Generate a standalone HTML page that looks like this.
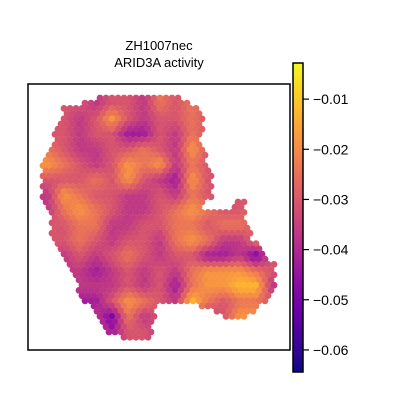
<!DOCTYPE html>
<html><head><meta charset="utf-8"><style>
html,body{margin:0;padding:0;background:#fff;}
svg{display:block;font-family:"Liberation Sans","DejaVu Sans",sans-serif;}
</style></head><body>
<svg id="chart" width="400" height="400" viewBox="0 0 400 400">
<defs>
<linearGradient id="plasma" x1="0" y1="1" x2="0" y2="0">
<stop offset="0" stop-color="#0d0887"/><stop offset="0.1" stop-color="#41049d"/><stop offset="0.2" stop-color="#6a00a8"/><stop offset="0.3" stop-color="#8f0da4"/><stop offset="0.4" stop-color="#b12a90"/><stop offset="0.5" stop-color="#cc4778"/><stop offset="0.6" stop-color="#e16462"/><stop offset="0.7" stop-color="#f2844b"/><stop offset="0.8" stop-color="#fca636"/><stop offset="0.9" stop-color="#fcce25"/><stop offset="1" stop-color="#f0f921"/>
</linearGradient>
</defs>
<text x="159" y="50" text-anchor="middle" font-size="13">ZH1007nec</text>
<text x="159" y="67" text-anchor="middle" font-size="13">ARID3A activity</text>
<g id="spots"></g>
<rect x="28" y="84" width="262" height="266" fill="none" stroke="#000" stroke-width="1.5"/>
<rect x="293" y="63" width="10" height="309" fill="url(#plasma)" stroke="#000" stroke-width="1.5"/>
<g id="cbticks"></g>
</svg>
<script>
// Colorbar domain
const vmin = -0.0644, vmax = -0.0028;
const tickValues = [-0.01, -0.02, -0.03, -0.04, -0.05, -0.06];
const tickLabels = ["\u22120.01", "\u22120.02", "\u22120.03", "\u22120.04", "\u22120.05", "\u22120.06"];
// Tissue outline: [y, [[xStart,xEnd],...]] spatial spot coordinates
const tissueRows = [
[98,[[100,180]]],[102,[[85,188]]],[106,[[72,193]]],[110,[[65,195]]],[115,[[63,198]]],
[120,[[60,203]]],[130,[[55,203]]],[140,[[55,200]]],[150,[[50,203]]],[160,[[45,205]]],
[170,[[42,207]]],[180,[[42,210]]],[190,[[42,212]]],[196,[[42,210]]],[202,[[42,205],[236,243]]],
[207,[[45,200],[233,245]]],[212,[[48,245]]],[218,[[53,245]]],[225,[[53,247]]],[235,[[53,250]]],
[245,[[55,260]]],[252,[[60,263]]],[258,[[65,268]]],[265,[[70,273]]],[272,[[72,275]]],
[280,[[75,275]]],[288,[[78,275]]],[295,[[80,272]]],[300,[[85,200],[205,265]]],
[305,[[90,157],[203,260]]],[310,[[95,155],[215,255]]],[315,[[100,155],[225,245]]],
[320,[[100,152]]],[325,[[103,152]]],[330,[[110,150]]],[335,[[125,150]]]
];
// Activity level map (0 = lowest, 9 = highest), 16 rows x 15 cols over the tissue
const activityLevels = [
[5,5,5,4,5,5,4,6,5,6,5,5,5,5,5],
[5,5,4,5,7,5,4,5,5,6,5,5,5,5,5],
[5,5,4,5,5,3,3,5,4,6,5,5,5,5,5],
[6,5,4,4,5,5,6,5,4,7,5,5,5,5,5],
[7,6,5,4,5,7,6,7,4,6,5,5,5,5,5],
[5,5,5,6,5,7,5,4,3,7,5,5,5,5,5],
[4,7,6,5,5,4,4,5,4,6,5,5,5,5,5],
[4,6,7,6,5,4,4,5,6,7,6,5,5,6,5],
[5,5,6,6,4,4,5,5,6,6,5,6,6,5,5],
[5,5,6,5,4,5,5,4,6,7,6,4,4,6,5],
[5,4,5,4,5,6,5,4,5,5,3,3,4,2,5],
[5,4,4,3,4,5,4,5,4,6,7,7,7,6,5],
[5,4,4,4,4,5,4,5,3,6,7,7,8,8,4],
[5,5,3,3,5,7,6,5,4,8,6,5,6,6,5],
[5,5,5,4,2,6,4,5,5,5,4,5,7,7,5],
[5,5,5,5,3,5,5,4,5,5,5,5,5,5,5]
];
const stops = ["#0d0887","#41049d","#6a00a8","#8f0da4","#b12a90","#cc4778","#e16462","#f2844b","#fca636","#fcce25","#f0f921"];
function hex(c){return [parseInt(c.slice(1,3),16),parseInt(c.slice(3,5),16),parseInt(c.slice(5,7),16)];}
function plasma(t){t=Math.max(0,Math.min(1,t));const f=t*10,i=Math.min(9,Math.floor(f)),u=f-i;const a=hex(stops[i]),b=hex(stops[i+1]);return "rgb("+a.map((v,k)=>Math.round(v+(b[k]-v)*u)).join(",")+")";}
const cbY = v => 372 - (v - vmin) / (vmax - vmin) * 309;
const NS = "http://www.w3.org/2000/svg";
const levelToValue = L => vmin + (0.05 + 0.1 * L) * (vmax - vmin);
function levelAt(x, y) {
  const fr = Math.max(0, Math.min(15, (y - 96) / 15.25 - 0.5));
  const fc = Math.max(0, Math.min(14, (x - 40) / 16 - 0.5));
  const r0 = Math.floor(fr), c0 = Math.floor(fc);
  const r1 = Math.min(15, r0 + 1), c1 = Math.min(14, c0 + 1);
  const u = fr - r0, w = fc - c0;
  const A = activityLevels;
  return (A[r0][c0]*(1-w)+A[r0][c1]*w)*(1-u) + (A[r1][c0]*(1-w)+A[r1][c1]*w)*u;
}
const g = document.getElementById("spots");
const dx = 6.0, dy = 5.2;
for (let j = 0; j < 47; j++) {
  const y = 98 + j * dy;
  let best = tissueRows[0];
  tissueRows.forEach(r => { if (Math.abs(r[0] - y) < Math.abs(best[0] - y)) best = r; });
  for (let i = 0; i < 42; i++) {
    const x = 40 + i * dx + (j % 2) * dx / 2;
    if (!best[1].some(s => x >= s[0] - 1 && x <= s[1] + 1)) continue;
    const v = levelToValue(levelAt(x, y));
    const el = document.createElementNS(NS, "circle");
    el.setAttribute("cx", x); el.setAttribute("cy", y); el.setAttribute("r", 3.4);
    el.setAttribute("fill", plasma((v - vmin) / (vmax - vmin)));
    
    
    g.appendChild(el);
  }
}
const tg = document.getElementById("cbticks");
tickValues.forEach((v, k) => {
  const y = cbY(v);
  const l = document.createElementNS(NS, "line");
  l.setAttribute("x1", 303); l.setAttribute("x2", 309); l.setAttribute("y1", y); l.setAttribute("y2", y);
  l.setAttribute("stroke", "#000"); l.setAttribute("stroke-width", 1.2);
  
  
  tg.appendChild(l);
  const t = document.createElementNS(NS, "text");
  t.setAttribute("x", 313); t.setAttribute("y", y + 5); t.setAttribute("font-size", 14);
  t.textContent = tickLabels[k];
  
  
  tg.appendChild(t);
});
</script>
</body></html>
